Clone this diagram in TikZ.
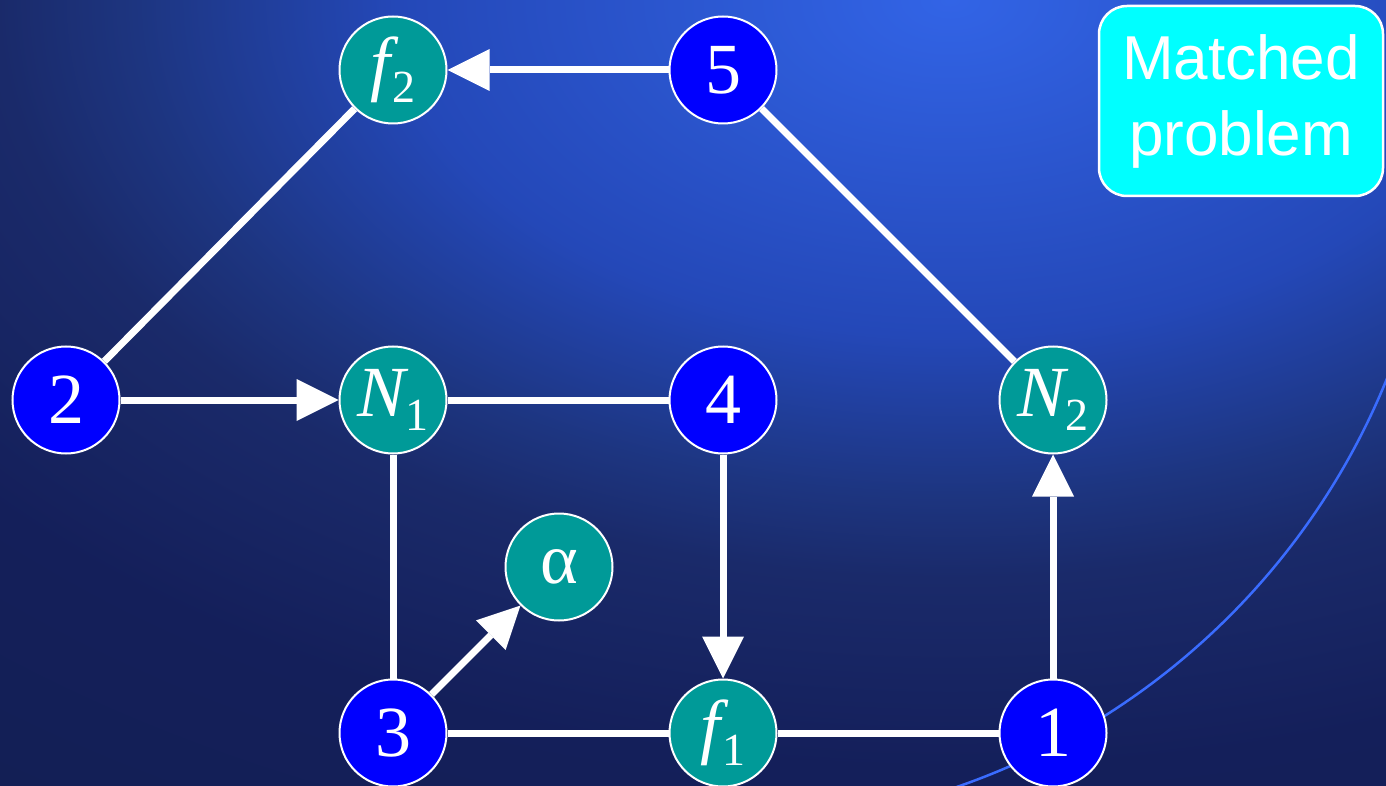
\documentclass[tikz,border=0pt]{standalone}
\usepackage{fontspec}
\setmainfont{Liberation Serif}
\newfontfamily\boxfont{Liberation Sans}
\usetikzlibrary{
    positioning,
    arrows.meta
}
\definecolor{bgcore}{HTML}{3264E6}
\definecolor{bgmid}{HTML}{2448B8}
\definecolor{bgdeep}{HTML}{1D3580}
\definecolor{bgdark}{HTML}{1A2A6A}
\definecolor{bgnight}{HTML}{141F5A}
\definecolor{bglow}{HTML}{131F55}
\definecolor{bgedge}{HTML}{121D52}
\definecolor{arcblue}{HTML}{3A6CFF}
\definecolor{nodeblue}{HTML}{0000FF}
\definecolor{nodeteal}{HTML}{009A98}
\definecolor{boxcyan}{HTML}{00FFFF}
\pgfdeclareradialshading{bgglow}{\pgfpoint{0bp}{0bp}}{%
    color(0bp)=(bgcore); color(15.8bp)=(bgmid); color(23.3bp)=(bgdeep);
    color(27.2bp)=(bgdark); color(36.2bp)=(bgnight); color(45.9bp)=(bglow);
    color(50bp)=(bgedge)}
\tikzset{
    >={Triangle[length=42pt,width=42pt,line width=0pt]},
    vertex/.style={
        circle,
        draw=white,
        line width=2pt,
        minimum size=107pt,
        inner sep=0pt,
        text=white,
        font=\fontsize{72}{72}\selectfont
    },
    numvertex/.style={vertex, fill=nodeblue},
    letvertex/.style={vertex, fill=nodeteal},
    matchbox/.style={
        rectangle,
        rounded corners=28pt,
        draw=white,
        line width=2.5pt,
        fill=boxcyan,
        minimum width=284pt,
        minimum height=190pt,
        align=center,
        text=white,
        font=\boxfont\fontsize{62}{76}\selectfont
    },
    link/.style={color=white, line width=7pt}
}
\newcommand{\lbl}[3]{\textit{#1}\kern#3em\raisebox{-0.2em}{\fontsize{46}{46}\selectfont #2}}

\begin{document}
\begin{tikzpicture}[
    x=1pt,
    y=-1pt
]

    % Fondo
    \useasboundingbox (0,0) rectangle (1386,786);
    \begin{scope}
        \clip (0,0) rectangle (1386,786);
        \pgftransformshift{\pgfpoint{950pt}{0pt}}
        \pgftransformxscale{34.87}
        \pgftransformyscale{21.17}
        \pgflowlevelsynccm
        \pgfuseshading{bgglow}
    \end{scope}
    \begin{scope}
        \clip (900,300) rectangle (1386,786);
        \draw[arcblue, line width=2.5pt] (723,110) circle [radius=716pt];
    \end{scope}

    % Nodos
    \node[letvertex] (f2) at (393,70)   {\lbl{f}{2}{-0.1}};
    \node[numvertex] (v5) at (723,70)   {5};

    \node[numvertex] (v2) at (66,400)   {2};
    \node[letvertex] (N1) at (393,400)  {\lbl{N}{1}{-0.04}};
    \node[numvertex] (v4) at (723,400)  {4};
    \node[letvertex] (N2) at (1053,400) {\lbl{N}{2}{-0.04}};

    \node[letvertex] (al) at (559,567)  {α};

    \node[numvertex] (v3) at (393,733)  {3};
    \node[letvertex] (f1) at (723,733)  {\lbl{f}{1}{-0.1}};
    \node[numvertex] (v1) at (1053,733) {1};

    \node[matchbox]  (mp) at (1241,101) {Matched\\problem};

    % Aristas
    \path[link]
        (v5) edge[->] (f2)
             edge (N2)
        (f2) edge (v2)
        (v2) edge[->] (N1)
        (N1) edge (v4)
             edge (v3)
        (v4) edge[->] (f1)
        (v3) edge[->] (al)
             edge (f1)
        (f1) edge (v1)
        (v1) edge[->] (N2);

\end{tikzpicture}
\end{document}
